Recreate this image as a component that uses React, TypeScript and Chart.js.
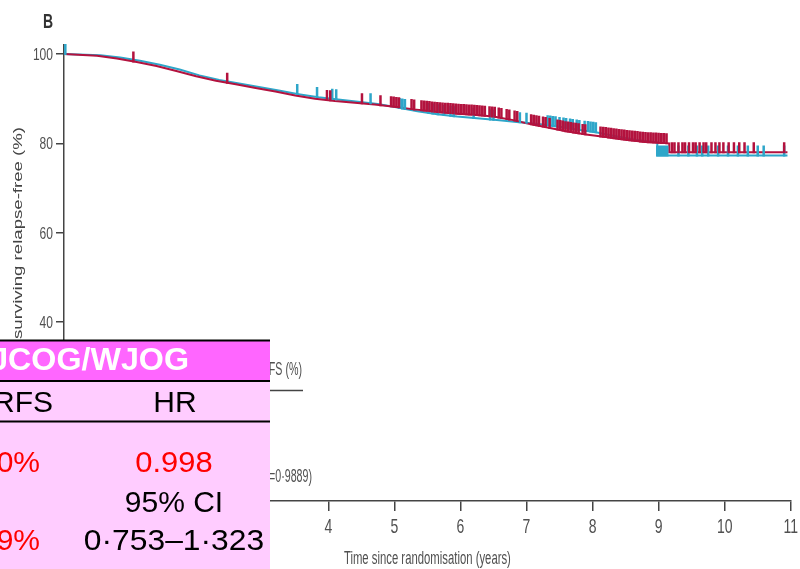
import React, { useEffect, useRef } from 'react';
import { Chart, registerables } from 'chart.js';

Chart.register(...registerables);

// ---- data ----
const xTicks = [0, 1, 2, 3, 4, 5, 6, 7, 8, 9, 10, 11];
const yTicks = [0, 20, 40, 60, 80, 100];

const redTimes = [0, 0.5, 0.8, 1.1, 1.4, 1.7, 2.0, 2.3, 2.6, 2.9, 3.2, 3.5, 3.8, 4.1, 4.4, 4.7, 5.0, 5.3, 5.6, 5.9, 6.2, 6.5, 6.8, 7.0, 7.3, 7.6, 7.9, 8.2, 8.5, 8.8, 9.16, 9.16, 10.95];
const redSurv = [100, 99.6, 99.0, 98.2, 97.3, 96.2, 95.0, 94.0, 93.2, 92.4, 91.6, 90.7, 90.0, 89.5, 89.1, 88.7, 88.2, 87.6, 87.1, 86.7, 86.4, 86.0, 85.2, 84.5, 83.6, 82.7, 82.0, 81.4, 80.8, 80.3, 80.0, 78.0, 78.0];

const blueTimes = [0, 0.55, 0.85, 1.15, 1.45, 1.75, 2.05, 2.35, 2.65, 2.95, 3.25, 3.55, 3.85, 4.15, 4.45, 4.75, 5.05, 5.35, 5.65, 5.95, 6.25, 6.55, 6.85, 7.15, 7.45, 7.75, 8.05, 8.35, 8.65, 8.98, 8.98, 10.95];
const blueSurv = [100, 99.7, 99.2, 98.5, 97.6, 96.5, 95.2, 94.2, 93.4, 92.6, 91.8, 91.0, 90.3, 89.8, 89.3, 88.8, 88.0, 87.2, 86.5, 86.0, 85.6, 85.2, 84.8, 84.4, 83.8, 83.1, 82.5, 81.6, 80.8, 80.2, 77.3, 77.3];

const redCensor = [1.05, 2.47, 3.98, 4.03, 4.51, 4.79, 4.95, 4.99, 5.03, 5.07, 5.26, 5.3, 5.41, 5.45, 5.49, 5.53, 5.57, 5.61, 5.65, 5.69, 5.73, 5.77, 5.81, 5.85, 5.89, 5.93, 5.97, 6.01, 6.05, 6.09, 6.13, 6.17, 6.21, 6.25, 6.29, 6.33, 6.37, 6.44, 6.48, 6.52, 6.58, 6.62, 6.7, 6.74, 6.82, 6.86, 7.07, 7.11, 7.15, 7.19, 7.25, 7.29, 7.35, 7.47, 7.51, 7.55, 7.59, 7.63, 7.67, 7.71, 7.75, 7.79, 7.85, 7.89, 8.12, 8.16, 8.2, 8.24, 8.28, 8.32, 8.36, 8.4, 8.44, 8.48, 8.52, 8.56, 8.6, 8.64, 8.68, 8.72, 8.76, 8.8, 8.84, 8.88, 8.92, 8.96, 9.0, 9.04, 9.08, 9.12, 9.2, 9.24, 9.3, 9.36, 9.4, 9.46, 9.52, 9.56, 9.62, 9.68, 9.72, 9.8, 9.86, 9.92, 9.98, 10.06, 10.14, 10.22, 10.3, 10.44, 10.9];
const blueCensor = [0.02, 3.53, 3.83, 4.06, 4.12, 4.64, 5.08, 5.12, 5.16, 5.52, 5.58, 5.66, 5.75, 5.85, 5.9, 6.2, 6.45, 6.5, 6.9, 7.0, 7.32, 7.36, 7.4, 7.44, 7.5, 7.56, 7.6, 7.66, 7.7, 7.76, 7.8, 7.88, 7.93, 7.97, 8.01, 8.05, 8.98, 9.01, 9.04, 9.07, 9.1, 9.13, 9.3, 9.45, 9.58, 9.66, 9.75, 9.9, 10.05, 10.2, 10.35, 10.5, 10.59, 10.9];

const panelLetter = 'B';
const yTitle = 'Proportion surviving relapse-free (%)';
const yTitleVisible = 'surviving relapse-free (%)';
const xTitle = 'Time since randomisation (years)';
const hiddenHeader = '5-year RFS (%)';
const hiddenP = 'p=0·9889)';
const tableTitle = 'JCOG/WJOG';
const tableCols = ['RFS', 'HR'];
const rfsValues = ['0%', '9%'];
const hrValue = '0.998';
const ciLabel = '95% CI';
const ciValue = '0·753–1·323';

const RED = '#b3123e';
const BLUE = '#2ea6c9';
const AXIS = '#444';
const LABEL = '#505050';
const SANS = "'Liberation Sans', Arial, sans-serif";

// value of the drawn (straight-segment) curve at time t
function curveAt(times: number[], surv: number[], t: number) {
  for (let i = 0; i < times.length - 1; i++) {
    const t0 = times[i];
    const t1 = times[i + 1];
    if (t >= t0 && t < t1) {
      return surv[i] + ((surv[i + 1] - surv[i]) * (t - t0)) / (t1 - t0);
    }
  }
  return surv[surv.length - 1];
}

function txt(ctx: CanvasRenderingContext2D, s: string, x: number, y: number, font: string, color: string, align: CanvasTextAlign, sx = 1, sy = 1, rot = 0) {
  ctx.save();
  ctx.translate(x, y);
  if (rot) ctx.rotate(rot);
  ctx.scale(sx, sy);
  ctx.font = font;
  ctx.fillStyle = color;
  ctx.textAlign = align;
  ctx.textBaseline = 'alphabetic';
  ctx.fillText(s, 0, 0);
  ctx.restore();
}

const overlayPlugin = {
  id: 'overlay',
  afterDatasetsDraw(chart: any) {
    const ctx: CanvasRenderingContext2D = chart.ctx;
    const xs = chart.scales.x;
    const ys = chart.scales.y;
    const drawCensor = (times: number[], surv: number[], cens: number[], color: string) => {
      ctx.save();
      ctx.strokeStyle = color;
      ctx.lineWidth = 2.5;
      ctx.beginPath();
      cens.forEach((t) => {
        const v = curveAt(times, surv, t);
        const px = xs.getPixelForValue(t);
        const py = ys.getPixelForValue(v);
        ctx.moveTo(px, py + 1);
        ctx.lineTo(px, py - 10);
      });
      ctx.stroke();
      ctx.restore();
    };
    drawCensor(blueTimes, blueSurv, blueCensor, BLUE);
    drawCensor(redTimes, redSurv, redCensor, RED);
  },
  afterDraw(chart: any) {
    const ctx: CanvasRenderingContext2D = chart.ctx;
    const xs = chart.scales.x;
    const ys = chart.scales.y;

    // tick labels
    yTicks.forEach((v) => {
      txt(ctx, String(v), 53, ys.getPixelForValue(v) + 6, `14px ${SANS}`, LABEL, 'right', 0.86, 1.2);
    });
    xTicks.forEach((v) => {
      txt(ctx, String(v), xs.getPixelForValue(v), 533, `14px ${SANS}`, LABEL, 'center', 1.0, 1.5);
    });

    // x title
    ctx.save();
    ctx.font = `13px ${SANS}`;
    const wx = ctx.measureText(xTitle).width;
    ctx.restore();
    txt(ctx, xTitle, (chart.chartArea.left + chart.chartArea.right) / 2, 564, `13px ${SANS}`, LABEL, 'center', 167 / wx, 1.35);

    // y title (rotated)
    ctx.save();
    ctx.font = `12px ${SANS}`;
    const wy = ctx.measureText(yTitleVisible).width;
    ctx.restore();
    txt(ctx, yTitle, 22, 127, `12px ${SANS}`, '#444', 'right', 212 / wy, 1.05, -Math.PI / 2);

    // panel letter
    txt(ctx, panelLetter, 43, 28, `bold 14px ${SANS}`, '#333', 'left', 1.0, 1.5);

    // remnants of the original table behind the box
    txt(ctx, hiddenHeader, 302, 375, `13px ${SANS}`, LABEL, 'right', 0.82, 1.4);
    ctx.save();
    ctx.strokeStyle = AXIS;
    ctx.lineWidth = 1.5;
    ctx.beginPath();
    ctx.moveTo(0, 390.5);
    ctx.lineTo(303, 390.5);
    ctx.stroke();
    ctx.restore();
    txt(ctx, hiddenP, 312, 482, `13px ${SANS}`, LABEL, 'right', 0.82, 1.4);

    // pink summary box
    ctx.save();
    ctx.fillStyle = '#ffccff';
    ctx.fillRect(0, 340, 270, 229);
    ctx.fillStyle = '#ff66ff';
    ctx.fillRect(0, 341, 270, 39);
    ctx.fillStyle = '#000';
    ctx.fillRect(0, 339.5, 270, 2);
    ctx.fillRect(0, 380, 270, 2);
    ctx.fillRect(0, 420.5, 270, 2);
    ctx.restore();

    txt(ctx, tableTitle, 189, 370, `bold 31px ${SANS}`, '#fff', 'right', 1.04, 1);
    txt(ctx, tableCols[0], 53, 412, `30px ${SANS}`, '#000', 'right');
    txt(ctx, tableCols[1], 175, 412, `30px ${SANS}`, '#000', 'center');
    txt(ctx, rfsValues[0], 40, 472, `30px ${SANS}`, '#ff0000', 'right');
    txt(ctx, hrValue, 174, 472, `30px ${SANS}`, '#ff0000', 'center', 1.03, 1);
    txt(ctx, ciLabel, 174, 512, `30px ${SANS}`, '#000', 'center');
    txt(ctx, rfsValues[1], 40, 550, `30px ${SANS}`, '#ff0000', 'right');
    txt(ctx, ciValue, 174, 550, `30px ${SANS}`, '#000', 'center', 1.06, 1);
  },
};

export default function App() {
  const canvasRef = useRef<HTMLCanvasElement | null>(null);

  useEffect(() => {
    const canvas = canvasRef.current;
    if (!canvas) return;
    const chart = new Chart(canvas, {
      type: 'line',
      data: {
        datasets: [
          {
            label: 'Arm A',
            data: redTimes.map((t, i) => ({ x: t, y: redSurv[i] })),
            borderColor: RED,
            borderWidth: 2,
            pointRadius: 0,
            tension: 0,
            fill: false,
          },
          {
            label: 'Arm B',
            data: blueTimes.map((t, i) => ({ x: t, y: blueSurv[i] })),
            borderColor: BLUE,
            borderWidth: 2,
            pointRadius: 0,
            tension: 0,
            fill: false,
          },
        ],
      },
      options: {
        animation: false,
        responsive: false,
        devicePixelRatio: 1,
        layout: { padding: { top: 45, right: 6, left: 0, bottom: 0 } },
        plugins: { legend: { display: false }, tooltip: { enabled: false }, title: { display: false } },
        scales: {
          x: {
            type: 'linear',
            min: 0,
            max: 11,
            afterBuildTicks: (s: any) => {
              s.ticks = xTicks.map((v) => ({ value: v }));
            },
            afterFit: (s: any) => {
              s.height = 68;
            },
            ticks: { color: 'rgba(0,0,0,0)', font: { size: 12 } },
            grid: { drawOnChartArea: false, drawTicks: true, tickLength: 10, color: AXIS, lineWidth: 1.5 },
            border: { color: AXIS, width: 1.5 },
          },
          y: {
            type: 'linear',
            min: 0,
            max: 102,
            afterBuildTicks: (s: any) => {
              s.ticks = yTicks.map((v) => ({ value: v }));
            },
            afterFit: (s: any) => {
              s.width = 64;
            },
            ticks: { color: 'rgba(0,0,0,0)', font: { size: 12 } },
            grid: { drawOnChartArea: false, drawTicks: true, tickLength: 8, color: AXIS, lineWidth: 1.5 },
            border: { color: AXIS, width: 1.5 },
          },
        },
      },
      plugins: [overlayPlugin],
    });
    return () => chart.destroy();
  }, []);

  return (
    <div style={{ position: 'absolute', left: 0, top: 0, width: 800, height: 569, background: '#fff' }}>
      <canvas ref={canvasRef} width={800} height={569} style={{ display: 'block', width: 800, height: 569 }} />
    </div>
  );
}
